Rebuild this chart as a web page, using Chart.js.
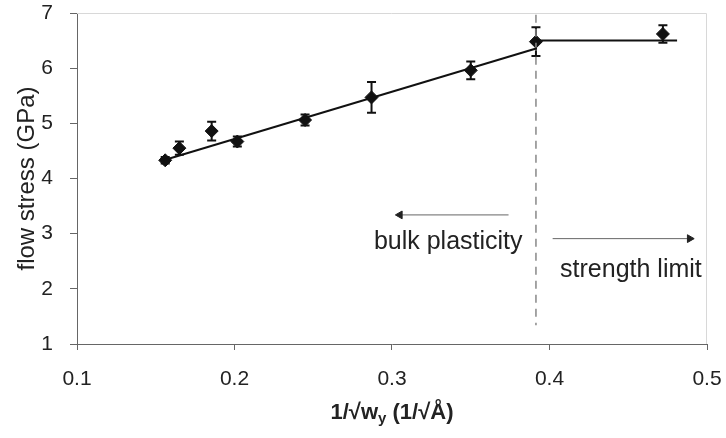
<!DOCTYPE html>
<html><head><meta charset="utf-8">
<script src="https://cdn.jsdelivr.net/npm/chart.js@4"></script>
<style>html,body{margin:0;padding:0;background:#fff}</style>
</head><body>
<canvas id="c" width="726" height="438"></canvas>
<script>
// measured points (x = 1/sqrt(w_y), y = flow stress in GPa) with error half-widths
const pointX   = [0.156, 0.165, 0.1855, 0.2018, 0.2448, 0.287, 0.350, 0.3914, 0.472];
const pointY   = [4.33, 4.55, 4.86, 4.67, 5.06, 5.47, 5.96, 6.48, 6.62];
const pointErr = [0.06, 0.12, 0.17, 0.09, 0.10, 0.28, 0.16, 0.26, 0.16];
// fitted line (bulk plasticity regime) and plateau (strength limit)
const fitX = [0.155, 0.392];
const fitY = [4.33, 6.36];
const plateauX = [0.392, 0.481];
const plateauY = [6.5, 6.5];
// dashed boundary
const boundaryX = [0.3914, 0.3914];
const boundaryY = [6.97, 1.34];
// arrows (tail -> head)
const leftArrowX = [0.374, 0.305];
const leftArrowY = [3.34, 3.34];
const rightArrowX = [0.402, 0.489];
const rightArrowY = [2.91, 2.91];
// annotation labels
const noteText = ['bulk plasticity', 'strength limit'];
const noteX = [0.2885, 0.4067];
const noteY = [2.72, 2.21];
// axes
const xTicks = [0.1, 0.2, 0.3, 0.4, 0.5];
const yTicks = [1, 2, 3, 4, 5, 6, 7];
const yTitle = 'flow stress (GPa)';

const pts = (xs, ys) => xs.map((x, i) => ({x, y: ys[i]}));
const noPad = s => { s.paddingLeft = 0; s.paddingRight = 0; s.paddingTop = 0; s.paddingBottom = 0; };

const extras = {
  id: 'extras',
  beforeDatasetsDraw(chart) {
    const {ctx, scales: {x, y}} = chart;
    ctx.save();
    ctx.strokeStyle = '#111';
    ctx.lineWidth = 2;
    pointX.forEach((px, i) => {
      const cx = x.getPixelForValue(px);
      const t = y.getPixelForValue(pointY[i] + pointErr[i]);
      const b = y.getPixelForValue(pointY[i] - pointErr[i]);
      ctx.beginPath();
      ctx.moveTo(cx, t); ctx.lineTo(cx, b);
      ctx.moveTo(cx - 4.5, t); ctx.lineTo(cx + 4.5, t);
      ctx.moveTo(cx - 4.5, b); ctx.lineTo(cx + 4.5, b);
      ctx.stroke();
    });
    // light frame top/right
    const a = chart.chartArea;
    ctx.strokeStyle = '#d8d8d8';
    ctx.lineWidth = 1;
    ctx.beginPath();
    ctx.moveTo(a.left, a.top + 0.5); ctx.lineTo(a.right - 0.5, a.top + 0.5); ctx.lineTo(a.right - 0.5, a.bottom);
    ctx.stroke();
    ctx.restore();
  },
  afterDraw(chart) {
    const {ctx, scales: {x, y}} = chart;
    ctx.save();
    ctx.fillStyle = '#222';
    ctx.font = '25px "Liberation Sans", Arial, sans-serif';
    ctx.textAlign = 'left';
    ctx.textBaseline = 'alphabetic';
    noteText.forEach((t, i) => ctx.fillText(t, x.getPixelForValue(noteX[i]), y.getPixelForValue(noteY[i])));
    // x-axis title with subscript
    const big = 'bold 22px "Liberation Sans", Arial, sans-serif';
    const small = 'bold 15px "Liberation Sans", Arial, sans-serif';
    const p1 = '1/\u221Aw', p2 = 'y', p3 = ' (1/\u221A\u00C5)';
    ctx.font = big; const w1 = ctx.measureText(p1).width, w3 = ctx.measureText(p3).width;
    ctx.font = small; const w2 = ctx.measureText(p2).width;
    const total = w1 + w2 + w3;
    const cx = (chart.chartArea.left + chart.chartArea.right) / 2;
    let sx = cx - total / 2;
    const base = 419;
    ctx.font = big; ctx.fillText(p1, sx, base); sx += w1;
    ctx.font = small; ctx.fillText(p2, sx, base + 4); sx += w2;
    ctx.font = big; ctx.fillText(p3, sx, base);
    ctx.restore();
  }
};

new Chart(document.getElementById('c'), {
  type: 'scatter',
  data: {
    datasets: [
      {data: pts(fitX, fitY), showLine: true, borderColor: '#111', borderWidth: 2, pointRadius: 0},
      {data: pts(plateauX, plateauY), showLine: true, borderColor: '#111', borderWidth: 2, pointRadius: 0},
      {data: pts(boundaryX, boundaryY), showLine: true, borderColor: '#888', borderWidth: 1.5, borderDash: [8, 6], pointRadius: 0},
      {data: pts(leftArrowX, leftArrowY), showLine: true, borderColor: '#666', borderWidth: 1,
       pointStyle: 'triangle', pointRadius: [0, 4.5], pointRotation: [0, -90], backgroundColor: '#222', pointBorderColor: '#222'},
      {data: pts(rightArrowX, rightArrowY), showLine: true, borderColor: '#666', borderWidth: 1,
       pointStyle: 'triangle', pointRadius: [0, 4.5], pointRotation: [0, 90], backgroundColor: '#222', pointBorderColor: '#222'},
      {data: pts(pointX, pointY), showLine: false, pointStyle: 'rectRot', pointRadius: 6.5,
       backgroundColor: '#111', borderColor: '#111'}
    ]
  },
  options: {
    responsive: false,
    animation: false,
    devicePixelRatio: 1,
    layout: {padding: {top: 13, right: 19, left: 0, bottom: 0}},
    plugins: {legend: {display: false}, tooltip: {enabled: false}},
    scales: {
      x: {
        type: 'linear', min: 0.1, max: 0.5,
        afterBuildTicks: s => { s.ticks = xTicks.map(v => ({value: v})); },
        afterFit: s => { s.height = 94; noPad(s); },
        ticks: {callback: v => v.toFixed(1), color: '#222', font: {size: 21, family: '"Liberation Sans", Arial, sans-serif'}, padding: 17, maxRotation: 0},
        grid: {drawOnChartArea: false, color: '#666', tickLength: 6},
        border: {color: '#666', width: 1}
      },
      y: {
        type: 'linear', min: 1, max: 7,
        afterBuildTicks: s => { s.ticks = yTicks.map(v => ({value: v})); },
        afterFit: s => { s.width = 77; noPad(s); },
        ticks: {callback: v => String(v), color: '#222', font: {size: 21, family: '"Liberation Sans", Arial, sans-serif'}, padding: 17},
        grid: {drawOnChartArea: false, color: '#666', tickLength: 7},
        border: {color: '#666', width: 1},
        title: {display: true, text: yTitle, color: '#222', font: {size: 24, family: '"Liberation Sans", Arial, sans-serif'}, padding: {top: 13, bottom: 0}}
      }
    }
  },
  plugins: [extras]
});
</script>
</body></html>
